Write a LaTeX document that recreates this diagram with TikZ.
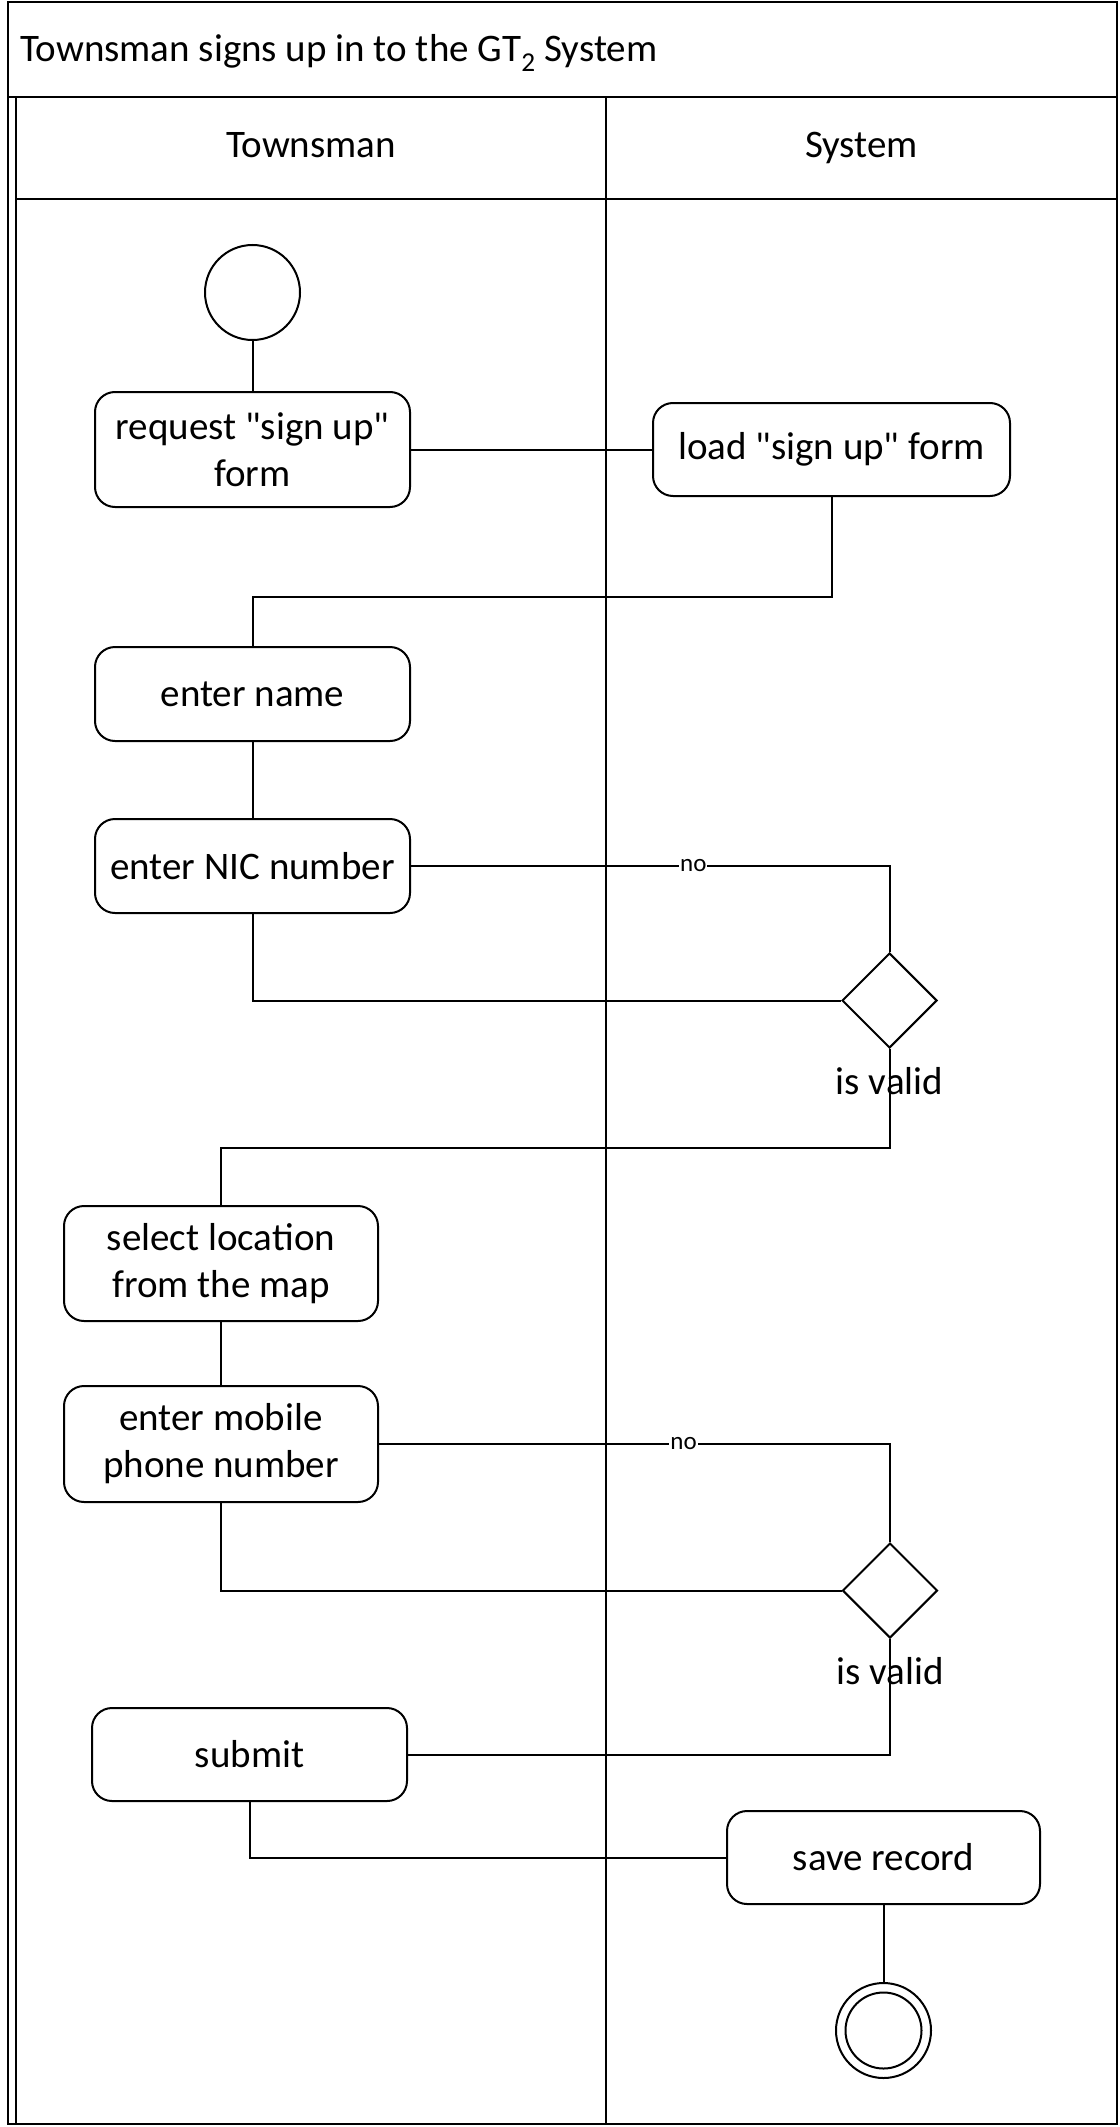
\documentclass[tikz,border=0pt]{standalone}
\usepackage{fontspec}
\setmainfont{Carlito}
\usetikzlibrary{shapes.geometric}
\tikzset{
  frame/.style={line width=2.4pt, line cap=rect},
  conn/.style={line width=2pt},
  actbox/.style={draw, line width=2pt, rounded corners=20pt, inner sep=0pt, align=center,
    font=\fontsize{39}{47}\selectfont},
  startnode/.style={draw, circle, line width=2pt, minimum size=95pt, inner sep=0pt},
  decision/.style={draw, diamond, line width=2pt, minimum width=95pt, minimum height=95pt, inner sep=0pt},
  lbl/.style={font=\fontsize{39}{47}\selectfont, inner sep=0pt},
  nolbl/.style={font=\fontsize{25}{30}\selectfont, fill=white, inner sep=1pt},
}
\begin{document}
\begin{tikzpicture}[x=1pt,y=-1pt]
\useasboundingbox (0,0) rectangle (1119,2127);
% frame
\draw[frame] (8,2) rectangle (1117,2124);
\draw[frame] (8,97) -- (1117,97);
\draw[frame] (16,97) -- (16,2124);
\draw[frame] (16,199) -- (1117,199);
\draw[frame] (606,97) -- (606,2124);
\node[lbl, anchor=base west] (title) at (20,62) {Townsman signs up in to the GT\textsubscript{2} System};
\node[lbl, anchor=base] (laneA) at (311,158) {Townsman};
\node[lbl, anchor=base] (laneB) at (861.5,158) {System};
% nodes
\node[startnode] (start) at (252.5,292.5) {};
\node[actbox, minimum width=315pt, minimum height=115pt] (req) at (252.5,449.5) {request \textquotedbl sign up\textquotedbl\\form};
\node[actbox, minimum width=357pt, minimum height=93pt] (load) at (831.5,449.5) {load \textquotedbl sign up\textquotedbl{} form};
\node[actbox, minimum width=315pt, minimum height=94pt] (name) at (252.5,694) {enter name};
\node[actbox, minimum width=315pt, minimum height=94pt] (nic) at (252.5,866) {enter NIC number};
\node[decision] (d1) at (889.5,1000.5) {};
\node[lbl] (v1) at (889.5,1081) {is valid};
\node[actbox, minimum width=314pt, minimum height=115pt] (sel) at (221,1263.5) {select location\\from the map};
\node[actbox, minimum width=314pt, minimum height=116pt] (mob) at (221,1444) {enter mobile\\phone number};
\node[decision] (d2) at (890,1590.5) {};
\node[lbl] (v2) at (890,1671) {is valid};
\node[actbox, minimum width=315pt, minimum height=93pt] (sub) at (249.5,1754.5) {submit};
\node[actbox, minimum width=313pt, minimum height=93pt] (save) at (883.5,1857.5) {save record};
\node[draw, circle, line width=2pt, minimum size=95pt, inner sep=0pt] (end) at (883.5,2030.5) {};
\node[draw, circle, line width=2pt, minimum size=76pt, inner sep=0pt] (endin) at (883.5,2030.5) {};
\coordinate (c1) at (831.5,597);
\coordinate (c2) at (889.5,1147.5);
% connectors
\draw[conn] (start) -- (req);
\draw[conn] (req.east) -- (load.west);
\draw[conn] (load.south) -- (c1) -| (name.north);
\draw[conn] (name) -- (nic);
\draw[conn] (nic.east) -| node[nolbl, pos=0.295] {no} (d1.north);
\draw[conn] (nic.south) |- (d1.west);
\draw[conn] (d1.south) -- (c2) -| (sel.north);
\draw[conn] (sel) -- (mob);
\draw[conn] (mob.east) -| node[nolbl, pos=0.298] {no} (d2.north);
\draw[conn] (mob.south) |- (d2.west);
\draw[conn] (d2.south) |- (sub.east);
\draw[conn] (sub.south) |- (save.west);
\draw[conn] (save) -- (end);
\end{tikzpicture}
\end{document}
